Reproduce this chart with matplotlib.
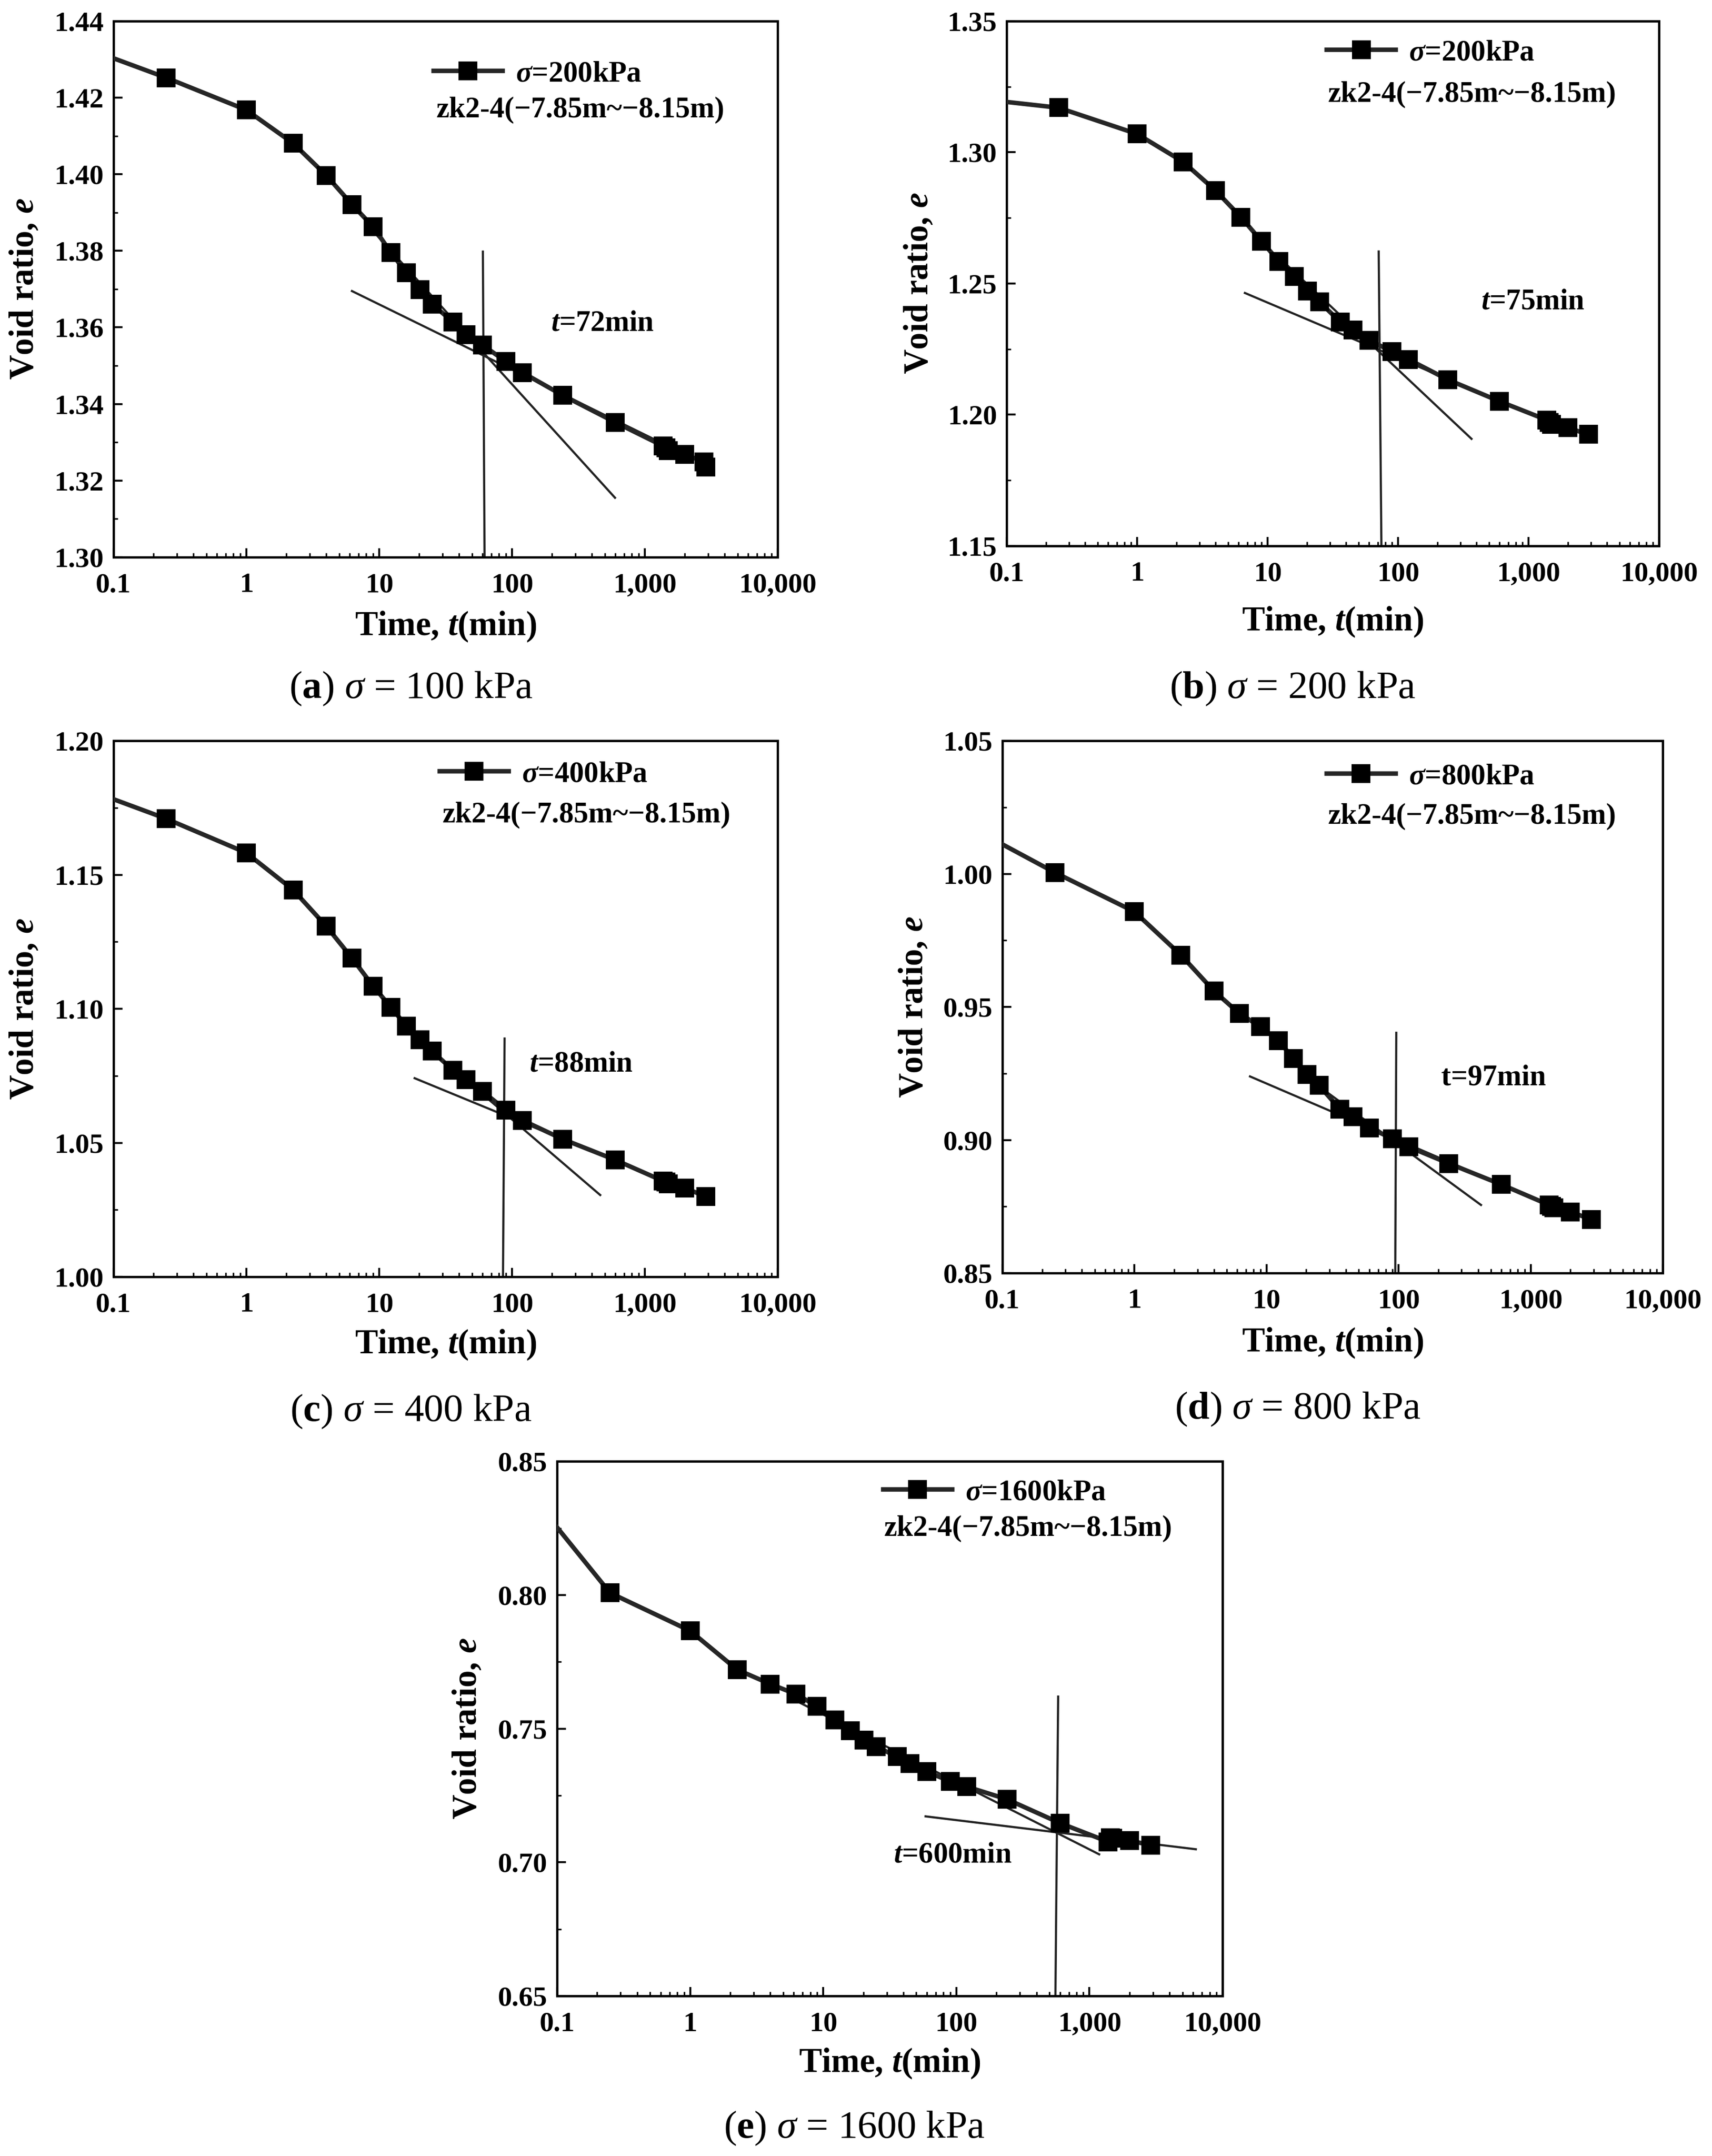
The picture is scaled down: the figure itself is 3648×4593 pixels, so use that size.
#!/usr/bin/env python3
"""
Void ratio versus time (log scale) for five consolidation load steps,
with the two tangent lines and the vertical marker at the end of primary
consolidation.
"""

import matplotlib
matplotlib.use("Agg")
import matplotlib.pyplot as plt
from matplotlib.ticker import (FixedLocator, LogLocator, MultipleLocator,
                               FormatStrFormatter, NullFormatter)

# Configuration
OUTPUT_FILE = "out.png"
DPI = 300
FIG_W, FIG_H = 3648 / DPI, 4593 / DPI

SAMPLE_NAME = "zk2-4(\u22127.85m~\u22128.15m)"

# ---- data ------------------------------------------------------------------
TIME_A = [0.1, 0.25, 1, 2.25, 4, 6.25, 9, 12.25, 16, 20.25, 25, 36, 45, 60,
          90, 120, 240, 600, 1380, 1440, 1500, 2000, 2800, 2880]
TIME = [0.1, 0.25, 1, 2.25, 4, 6.25, 9, 12.25, 16, 20.25, 25, 36, 45, 60,
        90, 120, 240, 600, 1380, 1440, 1500, 2000, 2880]

E_100 = [1.4303, 1.4252, 1.4168, 1.4081, 1.3997, 1.3921, 1.3863, 1.3796,
         1.3743, 1.3699, 1.3661, 1.3614, 1.3581, 1.3554, 1.3511, 1.3482,
         1.3423, 1.3352, 1.3290, 1.3285, 1.3278, 1.3268, 1.3249, 1.3235]
E_200 = [1.3192, 1.3170, 1.3070, 1.2964, 1.2854, 1.2753, 1.2661, 1.2584,
         1.2527, 1.2471, 1.2430, 1.2354, 1.2322, 1.2284, 1.2241, 1.2211,
         1.2134, 1.2051, 1.1980, 1.1971, 1.1963, 1.1950, 1.1925]
E_400 = [1.1782, 1.1709, 1.1582, 1.1444, 1.1308, 1.1189, 1.1085, 1.1006,
         1.0936, 1.0884, 1.0842, 1.0771, 1.0736, 1.0692, 1.0622, 1.0584,
         1.0514, 1.0436, 1.0357, 1.0354, 1.0347, 1.0331, 1.0300]
E_800 = [1.0111, 1.0005, 0.9858, 0.9695, 0.9560, 0.9475, 0.9426, 0.9374,
         0.9307, 0.9247, 0.9205, 0.9116, 0.9088, 0.9046, 0.9005, 0.8974,
         0.8912, 0.8833, 0.8756, 0.8751, 0.8746, 0.8730, 0.8702]
E_1600 = [0.8253, 0.8008, 0.7866, 0.7721, 0.7667, 0.7629, 0.7584, 0.7532,
          0.7492, 0.7458, 0.7433, 0.7395, 0.7370, 0.7339, 0.7303, 0.7283,
          0.7236, 0.7147, 0.7077, 0.7092, 0.7090, 0.7082, 0.7064]

# tangent lines: ([t_start, t_end], [e_start, e_end])
SEC_LINES = [([6.24, 3155], [1.3695, 1.3235]),
             ([6.7, 2036], [1.2464, 1.1940]),
             ([18.5, 1656], [1.0741, 1.0343]),
             ([7.5, 1928], [0.9239, 0.8725]),
             ([58.7, 6300], [0.7172, 0.7049])]
PRI_LINES = [([8.7, 597], [1.3857, 1.3155]),
             ([12.0, 366], [1.2603, 1.1908]),
             ([24.6, 462], [1.0846, 1.0305]),
             ([23.1, 421], [0.9214, 0.8756]),
             ([5.82, 1183], [0.7612, 0.7030])]
VERT_LINES = [([60.4, 62.2], [1.3798, 1.30]),
              ([71.1, 74.6], [1.2622, 1.15]),
              ([88.0, 85.6], [1.0889, 1.00]),
              ([96.1, 94.4], [0.9403, 0.85]),
              ([582, 555], [0.7620, 0.65])]

NOTES = ["$t$=72min", "$t$=75min", "$t$=88min", "t=97min", "$t$=600min"]
NOTE_POS = [(197, 1.361), (435, 1.243), (135, 1.0793), (210, 0.9233),
            (33.6, 0.7027)]

LEGEND_LABELS = [r"$\sigma$=200kPa", r"$\sigma$=200kPa", r"$\sigma$=400kPa",
                 r"$\sigma$=800kPa", r"$\sigma$=1600kPa"]
CAPTIONS = [r"($\mathbf{a}$) $\mathsf{\sigma}$ = 100 kPa",
            r"($\mathbf{b}$) $\mathsf{\sigma}$ = 200 kPa",
            r"($\mathbf{c}$) $\mathsf{\sigma}$ = 400 kPa",
            r"($\mathbf{d}$) $\mathsf{\sigma}$ = 800 kPa",
            r"($\mathbf{e}$) $\mathsf{\sigma}$ = 1600 kPa"]

Y_LIMITS = [(1.30, 1.44), (1.15, 1.35), (1.00, 1.20), (0.85, 1.05),
            (0.65, 0.85)]
Y_MAJOR = [0.02, 0.05, 0.05, 0.05, 0.05]

X_TICKS = [0.1, 1, 10, 100, 1000, 10000]
X_TICK_LABELS = ["0.1", "1", "10", "100", "1,000", "10,000"]

# ---- layout (figure fractions) ---------------------------------------------
AXES_RECTS = [[0.0663, 0.7416, 0.3879, 0.2486],
              [0.5880, 0.7468, 0.3810, 0.2434],
              [0.0663, 0.4078, 0.3879, 0.2486],
              [0.5855, 0.4095, 0.3857, 0.2469],
              [0.3254, 0.0742, 0.3887, 0.2480]]
CAPTION_POS = [(0.240, 0.6806), (0.755, 0.6806), (0.240, 0.3453),
               (0.758, 0.3464), (0.499, 0.0128)]
# handle start x, row y, second line x, second line y (axes fractions)
LEGEND_POS = [(0.482, 0.901, 0.486, 0.834),
              (0.491, 0.939, 0.493, 0.860),
              (0.491, 0.937, 0.495, 0.861),
              (0.491, 0.932, 0.493, 0.858),
              (0.490, 0.941, 0.491, 0.874)]
XLABEL_Y = [-0.13, -0.145, -0.127, -0.131, -0.126]

LINE_COLOR = "#262626"


def setup_fonts():
    plt.rcParams["font.family"] = ["Liberation Serif", "DejaVu Serif"]
    plt.rcParams["font.weight"] = "bold"
    plt.rcParams["axes.labelweight"] = "bold"
    plt.rcParams["mathtext.fontset"] = "custom"
    plt.rcParams["mathtext.it"] = "Liberation Serif:style=italic:weight=bold"
    plt.rcParams["mathtext.rm"] = "Liberation Serif:weight=bold"
    plt.rcParams["mathtext.bf"] = "Liberation Serif:weight=bold"
    plt.rcParams["mathtext.sf"] = "Liberation Serif:style=italic:weight=normal"


def draw_panel(fig, i, t, e):
    ax = fig.add_axes(AXES_RECTS[i])

    # tangent construction lines
    for xs, ys in (SEC_LINES[i], PRI_LINES[i], VERT_LINES[i]):
        ax.plot(xs, ys, color="#222222", lw=1.1, zorder=2)

    ax.plot(t, e, color=LINE_COLOR, lw=2.3, marker="s", ms=8.5,
            mfc="black", mec="black", markevery=list(range(1, len(t))),
            label=LEGEND_LABELS[i], zorder=3)

    ax.set_xscale("log")
    ax.set_xlim(0.1, 10000)
    ax.set_ylim(*Y_LIMITS[i])

    ax.xaxis.set_major_locator(FixedLocator(X_TICKS))
    ax.set_xticklabels(X_TICK_LABELS)
    ax.xaxis.set_minor_locator(LogLocator(base=10, subs=range(2, 10)))
    ax.xaxis.set_minor_formatter(NullFormatter())
    ax.yaxis.set_major_locator(MultipleLocator(Y_MAJOR[i]))
    ax.yaxis.set_minor_locator(MultipleLocator(Y_MAJOR[i] / 2))
    ax.yaxis.set_major_formatter(FormatStrFormatter("%.2f"))

    ax.tick_params(which="major", direction="in", length=4.5, width=1.0,
                   labelsize=14.5)
    ax.tick_params(which="minor", direction="in", length=2.2, width=0.8)
    ax.tick_params(axis="x", which="major", pad=8)
    ax.tick_params(axis="y", which="major", pad=5)
    for spine in ax.spines.values():
        spine.set_linewidth(1.2)

    ax.set_xlabel("Time, $t$(min)", fontsize=17.5, fontweight="bold",
                  va="center")
    ax.xaxis.set_label_coords(0.5, XLABEL_Y[i])
    ax.set_ylabel("Void ratio, $e$", fontsize=17.5, fontweight="bold",
                  va="center")
    ax.yaxis.set_label_coords(-0.134, 0.5)

    ax.text(NOTE_POS[i][0], NOTE_POS[i][1], NOTES[i], fontsize=15,
            ha="left", va="center")

    hx, hy, zx, zy = LEGEND_POS[i]
    ax.legend(loc="center left", bbox_to_anchor=(hx, hy), frameon=False,
              borderpad=0, borderaxespad=0, handlelength=2.35,
              handletextpad=0.45, prop={"size": 15, "weight": "bold"})
    ax.text(zx, zy, SAMPLE_NAME, transform=ax.transAxes, fontsize=15,
            ha="left", va="center")

    fig.text(CAPTION_POS[i][0], CAPTION_POS[i][1], CAPTIONS[i],
             fontsize=20, fontweight="normal", ha="center", va="center")
    return ax


def main():
    setup_fonts()
    fig = plt.figure(figsize=(FIG_W, FIG_H), dpi=DPI)
    series = [(TIME_A, E_100), (TIME, E_200), (TIME, E_400), (TIME, E_800),
              (TIME, E_1600)]
    for i, (t, e) in enumerate(series):
        draw_panel(fig, i, t, e)
    fig.savefig(OUTPUT_FILE, dpi=DPI, facecolor="white")
    print(f"Saved {OUTPUT_FILE}")


if __name__ == "__main__":
    main()
